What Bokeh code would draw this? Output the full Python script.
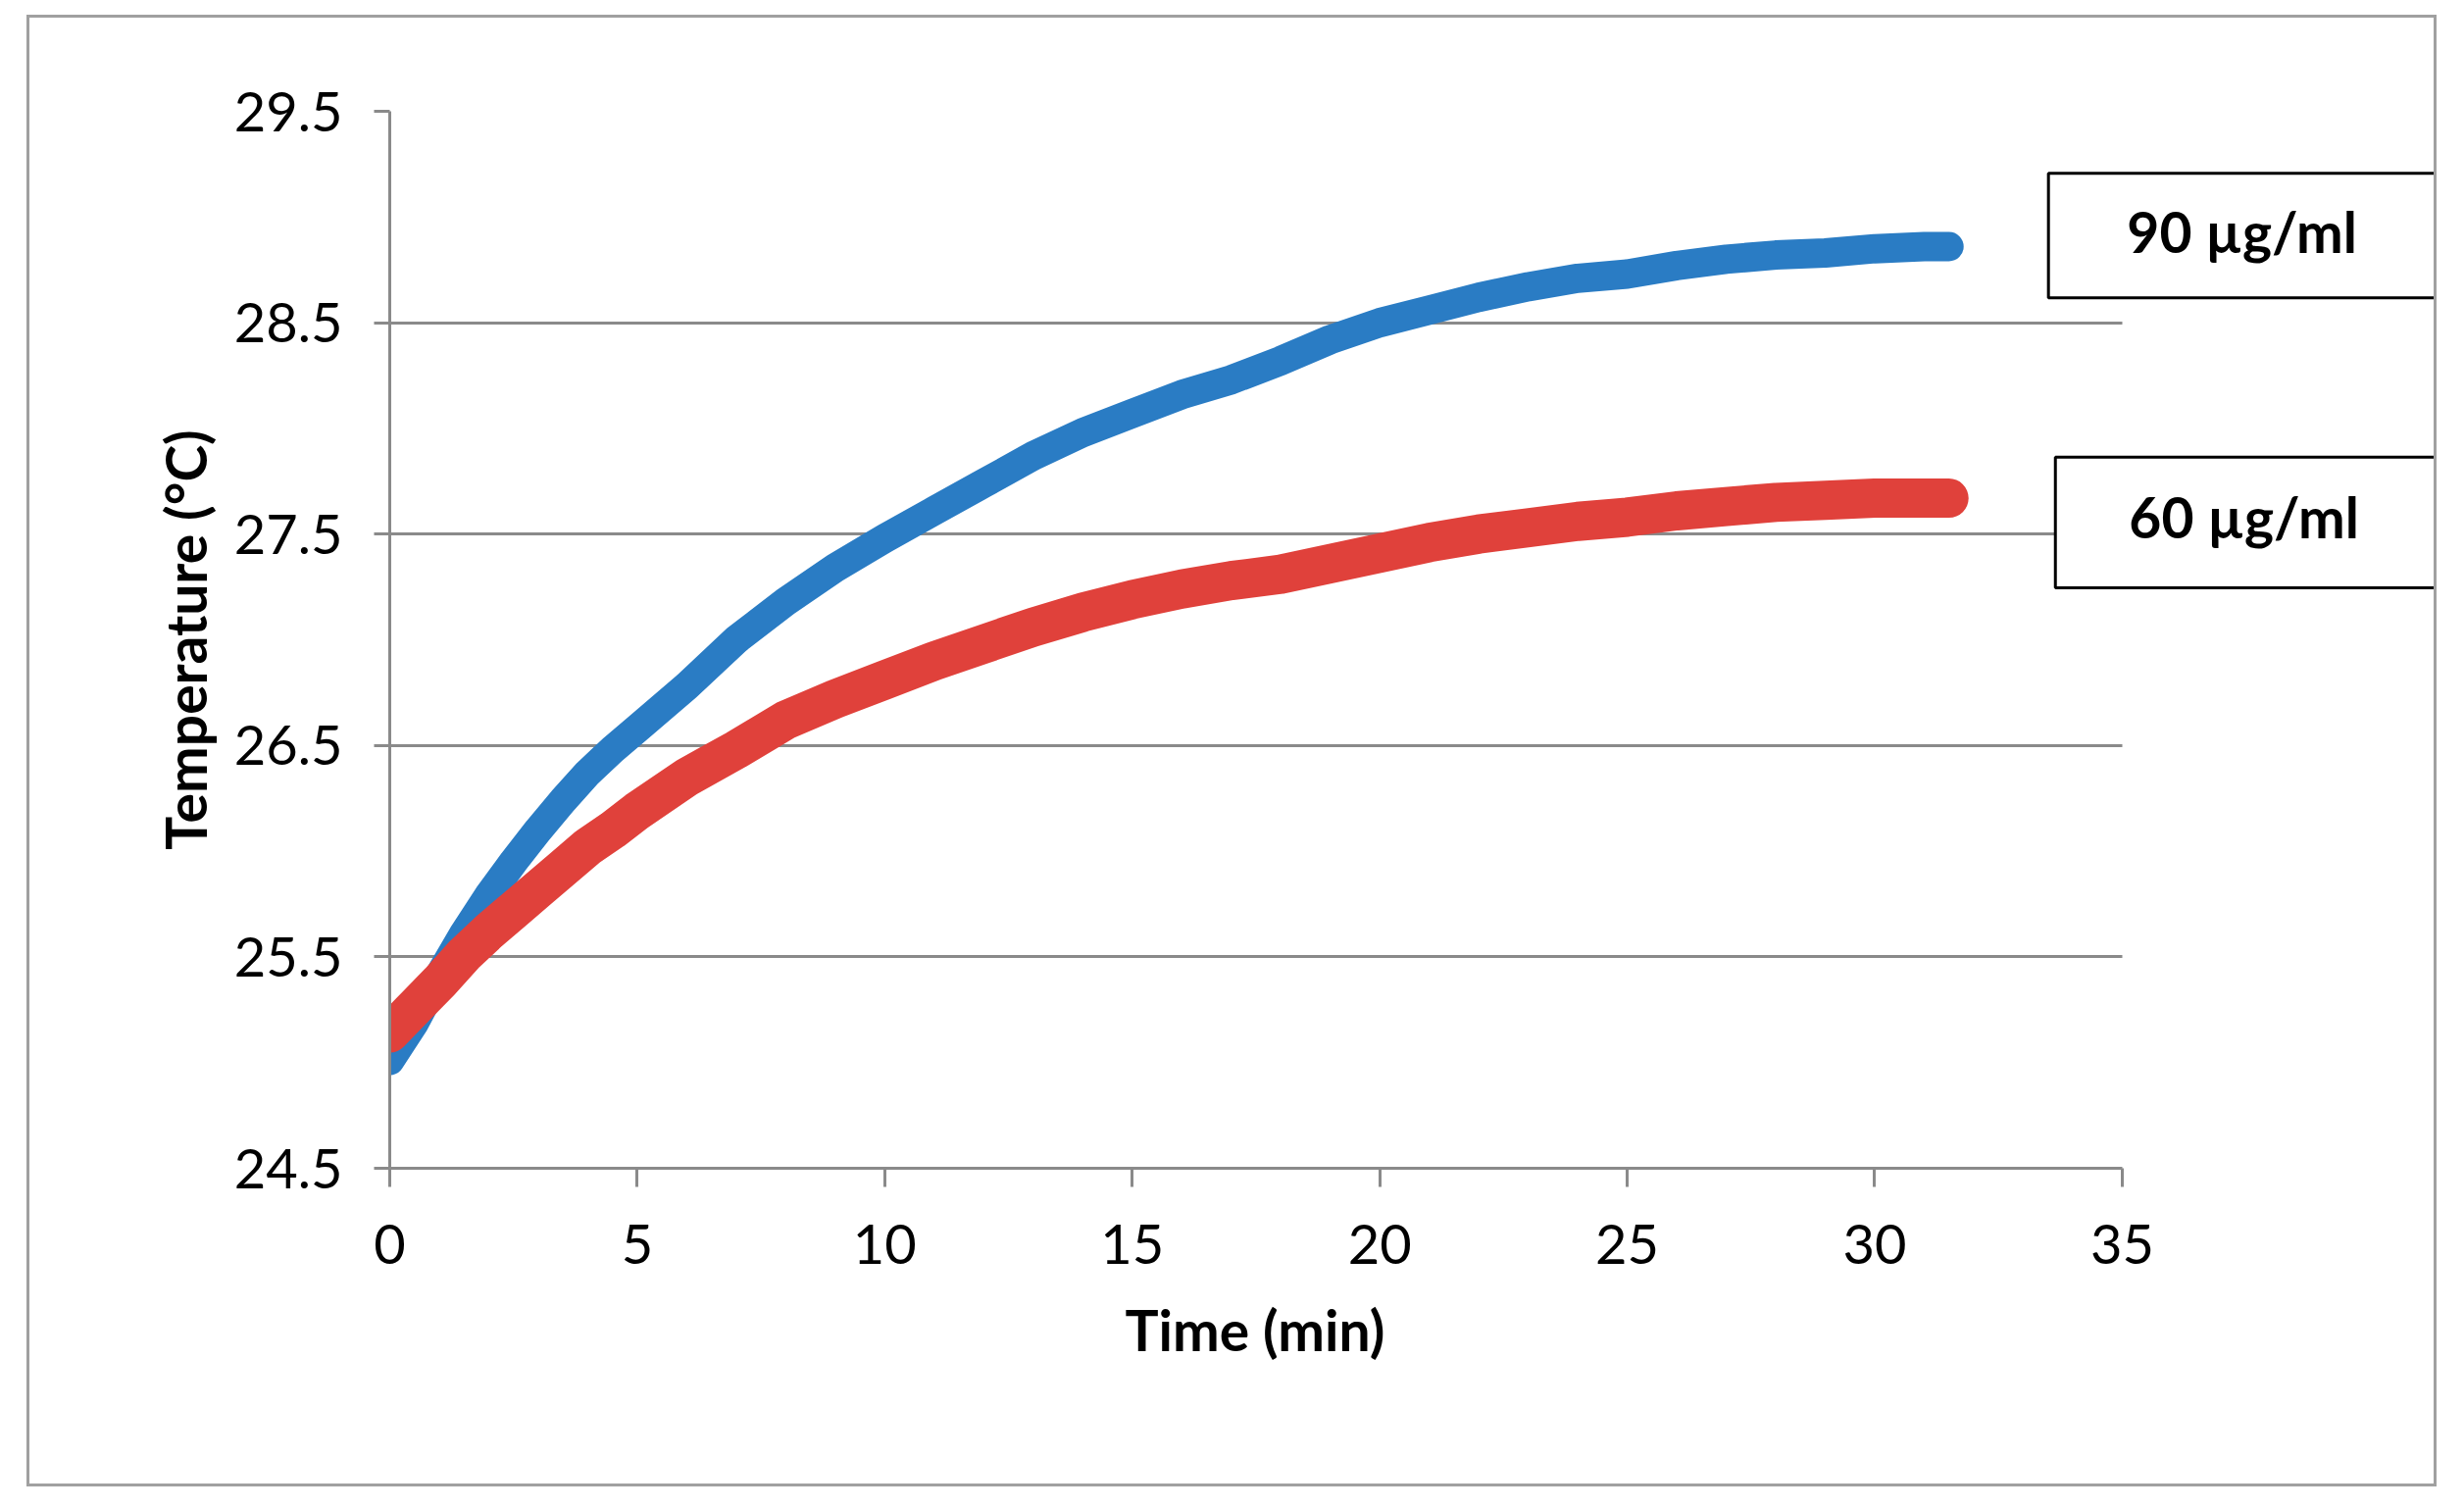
from bokeh.plotting import figure
from bokeh.models import Range1d, FixedTicker, BoxAnnotation, Label, Title
from bokeh.embed import file_html
from bokeh.resources import INLINE

# ---- data ----
time_90 = [0, 0.5, 1, 1.5, 2, 2.5, 3, 3.5, 4, 4.5, 5, 6, 7, 8, 9, 10, 11, 12, 13, 14,
           15, 16, 17, 18, 19, 20, 21, 22, 23, 24, 25, 26, 27, 28, 29, 30, 31, 31.5]
temp_90 = [25.01, 25.19, 25.41, 25.61, 25.79, 25.95, 26.10, 26.24, 26.37, 26.48, 26.58,
           26.78, 27.00, 27.18, 27.34, 27.48, 27.61, 27.74, 27.87, 27.98, 28.07, 28.16,
           28.23, 28.32, 28.42, 28.50, 28.56, 28.62, 28.67, 28.71, 28.73, 28.77, 28.80,
           28.82, 28.83, 28.85, 28.86, 28.86]
time_60 = [0, 0.5, 1, 1.5, 2, 2.5, 3, 3.5, 4, 4.5, 5, 6, 7, 8, 9, 10, 11, 12, 13, 14,
           15, 16, 17, 18, 19, 20, 21, 22, 23, 24, 25, 26, 27, 28, 29, 30, 31, 31.5]
temp_60 = [25.14, 25.26, 25.38, 25.51, 25.62, 25.72, 25.82, 25.92, 26.02, 26.10, 26.19,
           26.35, 26.48, 26.62, 26.72, 26.81, 26.90, 26.98, 27.06, 27.13, 27.19, 27.24,
           27.28, 27.31, 27.36, 27.41, 27.46, 27.50, 27.53, 27.56, 27.58, 27.61, 27.63,
           27.65, 27.66, 27.67, 27.67, 27.67]
series_labels = ["90 µg/ml", "60 µg/ml"]
x_ticks = [0, 5, 10, 15, 20, 25, 30, 35]
y_ticks = [24.5, 25.5, 26.5, 27.5, 28.5, 29.5]
x_title = "Time (min)"
y_title = "Temperature (°C)"

BLUE = "#2a7cc4"
RED = "#e0413b"
GRID = "#8a8a8a"
FONT = "Lato"

p = figure(width=2458, height=1501, output_backend="svg", toolbar_location=None,
           x_range=Range1d(0, 41.40), y_range=Range1d(24.5, 29.5),
           min_border_left=367, min_border_right=1,
           min_border_top=95, min_border_bottom=328)
p.margin = (15, 0, 0, 27)
p.styles = {"border": "3px solid #a0a0a0"}
p.outline_line_color = None
p.background_fill_color = "white"
p.border_fill_color = "white"

p.xgrid.grid_line_color = None
p.ygrid.grid_line_color = GRID
p.ygrid.grid_line_width = 3
p.ygrid.ticker = FixedTicker(ticks=y_ticks)
p.ygrid[0].cross_bounds = (0, 35)

p.xaxis.ticker = FixedTicker(ticks=x_ticks)
p.yaxis.ticker = FixedTicker(ticks=y_ticks)
p.xaxis.bounds = (0, 35)
for ax in (p.xaxis[0], p.yaxis[0]):
    ax.axis_line_color = GRID
    ax.axis_line_width = 3
    ax.major_tick_line_color = GRID
    ax.major_tick_line_width = 3
    ax.major_tick_in = 0
    ax.minor_tick_line_color = None
    ax.major_label_text_font = FONT
    ax.major_label_text_font_size = "56px"
    ax.major_label_text_color = "black"
    ax.axis_label_text_font = FONT
    ax.axis_label_text_font_style = "bold"
    ax.axis_label_text_font_size = "57px"
    ax.axis_label_text_color = "black"

p.xaxis.major_tick_out = 19
p.xaxis.major_label_standoff = 38

p.yaxis.major_tick_out = 16
p.yaxis.major_label_standoff = 32
p.yaxis.axis_label = y_title
p.yaxis.axis_label_standoff = 13

# x-axis title centred under the 0..35 part of the axis
p.add_layout(Title(text=x_title, align="left", offset=750, standoff=56,
                   text_font=FONT, text_font_size="57px", text_font_style="bold",
                   text_color="black"), "below")

p.line(time_90, temp_90, line_color=BLUE, line_width=30, line_cap="round", line_join="round")
p.line(time_60, temp_60, line_color=RED, line_width=40, line_cap="round", line_join="round")

# label boxes (left, right, top, bottom, text x, text y)
boxes = [(33.51, 41.40, 29.207, 28.617, 37.42, 28.933),
         (33.65, 41.40, 27.864, 27.246, 37.46, 27.581)]
for (l, r, t, b, tx, ty), txt in zip(boxes, series_labels):
    p.add_layout(BoxAnnotation(left=l, right=r, top=t, bottom=b, fill_color="white",
                               fill_alpha=1, line_color="black", line_alpha=1,
                               line_width=3))
    p.add_layout(Label(x=tx, y=ty, text=txt, text_font=FONT, text_font_style="bold",
                       text_font_size="57px", text_align="center",
                       text_baseline="middle", text_color="black"))

open("out.html", "w").write(file_html(p, INLINE))
